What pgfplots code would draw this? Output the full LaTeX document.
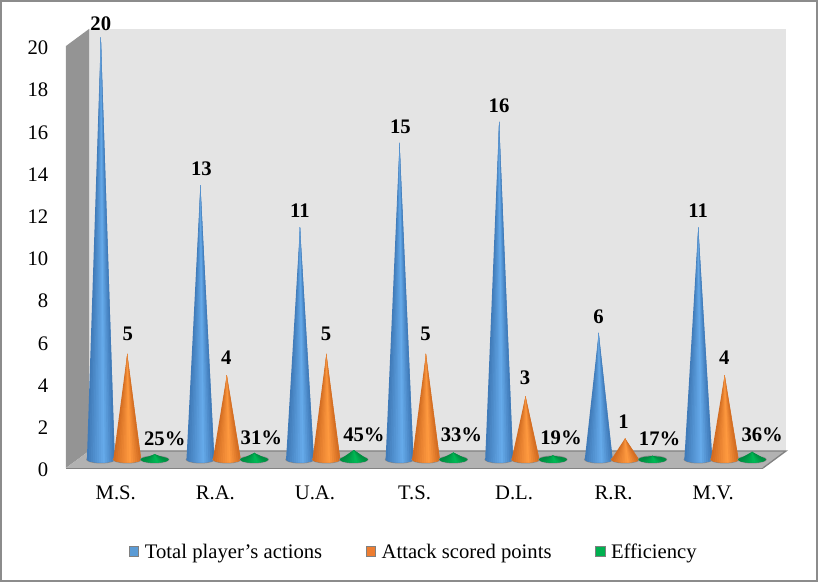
\documentclass[border=0pt]{standalone}
\usepackage{pgfplots}
\usepackage{pgfplotstable}
\usepackage{fontspec}
\setmainfont{Liberation Serif}
\pgfplotsset{compat=1.18}

\definecolor{wallback}{HTML}{E4E4E4}
\definecolor{wallleft}{HTML}{949494}
\definecolor{floorc}{HTML}{B2B2B2}
\definecolor{edgec}{HTML}{828282}
\definecolor{bluelight}{HTML}{66ABEB}
\definecolor{bluedark}{HTML}{3E78B6}
\definecolor{orangelight}{HTML}{FF9A40}
\definecolor{orangedark}{HTML}{D06A20}
\definecolor{greenlight}{HTML}{00BA55}
\definecolor{greendark}{HTML}{008A40}
\definecolor{shadowc}{HTML}{8A8A8A}
\definecolor{legblue}{HTML}{5B9BD5}
\definecolor{legorange}{HTML}{ED7D31}
\definecolor{leggreen}{HTML}{00B050}

\def\unitpx{0.75pt}
\def\basey{0.403}
\def\radx{0.14}
\def\rady{0.15}
\def\numgore{14}

% columns: category, value, label, label shift in px
\pgfplotstableread{
x y lab dx dy
0 20 20 -15 22
1 13 13 -14 25
2 11 11 -15 25
3 15 15 -14 25
4 16 16 -15 25
5 6 6 -15 25
6 11 11 -15 25
}\totaltbl
\pgfplotstableread{
x y lab dx dy
0 5 5 12 29
1 4 4 11 26
2 5 5 11 29
3 5 5 11 29
4 3 3 11 27
5 1 1 10 25
6 4 4 11 26
}\attacktbl
\pgfplotstableread{
x y lab dx dy
0 0.25 25 49 24
1 0.31 31 46 24
2 0.45 45 49 24
3 0.33 33 47 26
4 0.19 19 47 26
5 0.17 17 46 26
6 0.36 36 49 26
}\efftbl

% one cone: centre x, height, light colour, dark colour
\newcommand{\drawcone}[4]{%
  \pgfmathsetmacro\tipy{\basey+#2}%
  \xdef\pts{}%
  \foreach \ang in {0,20,...,340}{%
    \pgfmathsetmacro\ptx{#1+(\radx+0.008)*cos(\ang)}%
    \pgfmathsetmacro\pty{\basey+(\rady+0.04)*sin(\ang)}%
    \xdef\pts{\pts(\ptx,\pty)}%
  }%
  \edef\tmp{\noexpand\addplot[forget plot,fill=shadowc,draw=none] coordinates {\pts};}\tmp
  \xdef\pts{}%
  \foreach \ang in {0,20,...,340}{%
    \pgfmathsetmacro\ptx{#1+\radx*cos(\ang)}%
    \pgfmathsetmacro\pty{\basey+\rady*sin(\ang)}%
    \xdef\pts{\pts(\ptx,\pty)}%
  }%
  \edef\tmp{\noexpand\addplot[forget plot,fill=#4,draw=none] coordinates {\pts};}\tmp
  % gores of equal width, each running under the next one so no seam shows
  \foreach \k in {1,...,\numgore}{%
    \pgfmathsetmacro\ua{-1+2*(\k-1)/\numgore}%
    \pgfmathsetmacro\ub{-1+2*\k/\numgore}%
    \pgfmathsetmacro\uc{min(1,-1+2*(\k+1)/\numgore)}%
    \pgfmathsetmacro\xa{#1+\radx*\ua}%
    \pgfmathsetmacro\ya{\basey-\rady*sqrt(max(0,1-\ua*\ua))}%
    \pgfmathsetmacro\xb{#1+\radx*\ub}%
    \pgfmathsetmacro\yb{\basey-\rady*sqrt(max(0,1-\ub*\ub))}%
    \pgfmathsetmacro\xc{#1+\radx*\uc}%
    \pgfmathsetmacro\yc{\basey-\rady*sqrt(max(0,1-\uc*\uc))}%
    \pgfmathsetmacro\tpos{(\k-0.5)/\numgore}%
    \pgfmathsetmacro\mixv{int(100*(\tpos<0.6 ? \tpos/0.6 : (1-\tpos)/0.4))}%
    \edef\tmp{\noexpand\addplot[forget plot,fill={#3!\mixv!#4},draw=none]
      coordinates {(#1,\tipy)(\xa,\ya)(\xb,\yb)(\xc,\yc)};}\tmp
  }%
}
% all cones of one series
\newcommand{\drawseries}[4]{%
  \foreach \i in {0,...,6}{%
    \pgfplotstablegetelem{\i}{y}\of#1%
    \let\val\pgfplotsretval
    \pgfmathsetmacro\cx{\i+#2}%
    \drawcone{\cx}{\val}{#3}{#4}%
  }%
}

\begin{document}
\begin{tikzpicture}
\path[use as bounding box] (-66*\unitpx,-114*\unitpx) rectangle (753*\unitpx,468*\unitpx);
\begin{axis}[
    scale only axis,
    width=697*\unitpx,
    height=422*\unitpx,
    clip=false,
    xmin=-0.5, xmax=6.5,
    ymin=0, ymax=20,
    xtick={0,...,6},
    xticklabels={M.S.,R.A.,U.A.,T.S.,D.L.,R.R.,M.V.},
    ytick={0,2,...,20},
    axis line style={draw=none},
    major tick length=0pt,
    tick label style={font=\fontsize{15.5}{17}\selectfont},
    /pgf/number format/assume math mode=true,
    yticklabel style={anchor=east,xshift=-13*\unitpx,yshift=-2*\unitpx},
    xticklabel style={anchor=center,yshift=-25*\unitpx},
    legend image code/.code={\draw[#1,line width=0.5pt] (0cm,-0.1cm) rectangle (7pt,-0.1cm+7.5pt);\path (9.4pt,0);},
    legend style={at={(0.0845,-0.1995)},anchor=west,draw=none,fill=none,
      font=\fontsize{15.5}{17}\selectfont,legend columns=3,
      /tikz/every even column/.append style={column sep=41*\unitpx}},
    lblstyle/.style={forget plot,only marks,mark=none,
      point meta=explicit symbolic,
      visualization depends on={\thisrow{dx} \as \lbldx},
      visualization depends on={\thisrow{dy} \as \lbldy},
      nodes near coords style={anchor=center,inner sep=0pt,
        font=\fontsize{15.5}{17}\selectfont\bfseries,
        xshift=\lbldx*\unitpx,yshift=\lbldy*\unitpx}},
  ]
  \addlegendimage{fill=legblue,draw=gray}
  \addlegendentry{Total player’s actions}
  \addlegendimage{fill=legorange,draw=gray}
  \addlegendentry{Attack scored points}
  \addlegendimage{fill=leggreen,draw=gray}
  \addlegendentry{Efficiency}

  % walls and floor of the box
  \addplot[forget plot,fill=wallback,draw=none] coordinates {(-0.269,0.806)(-0.269,20.806)(6.731,20.806)(6.731,0.806)};
  \addplot[forget plot,fill=wallleft,draw=none] coordinates {(-0.5,0)(-0.5,20)(-0.269,20.806)(-0.269,0.806)};
  \addplot[forget plot,fill=floorc,draw=none] coordinates {(-0.5,0)(-0.269,0.806)(6.731,0.806)(6.5,0)};
  \addplot[forget plot,draw=edgec,line width=1pt] coordinates {(-0.269,0.806)(6.731,0.806)(6.5,0)};
  \addplot[forget plot,draw=edgec,line width=1.2pt] coordinates {(-0.5,-0.03)(6.5,-0.03)};

  \drawseries{\totaltbl}{-0.15}{bluelight}{bluedark}
  \drawseries{\attacktbl}{0.115}{orangelight}{orangedark}
  \drawseries{\efftbl}{0.39}{greenlight}{greendark}

  % data labels
  \addplot[lblstyle,nodes near coords] table[x=x,y=y,meta=lab] {\totaltbl};
  \addplot[lblstyle,nodes near coords] table[x=x,y=y,meta=lab] {\attacktbl};
  \addplot[lblstyle,nodes near coords={\pgfplotspointmeta\%}] table[x=x,y=y,meta=lab] {\efftbl};
\end{axis}
\draw[gray!90,line width=1.5pt] (-65*\unitpx,-113*\unitpx) rectangle (751*\unitpx,467*\unitpx);
\end{tikzpicture}
\end{document}
